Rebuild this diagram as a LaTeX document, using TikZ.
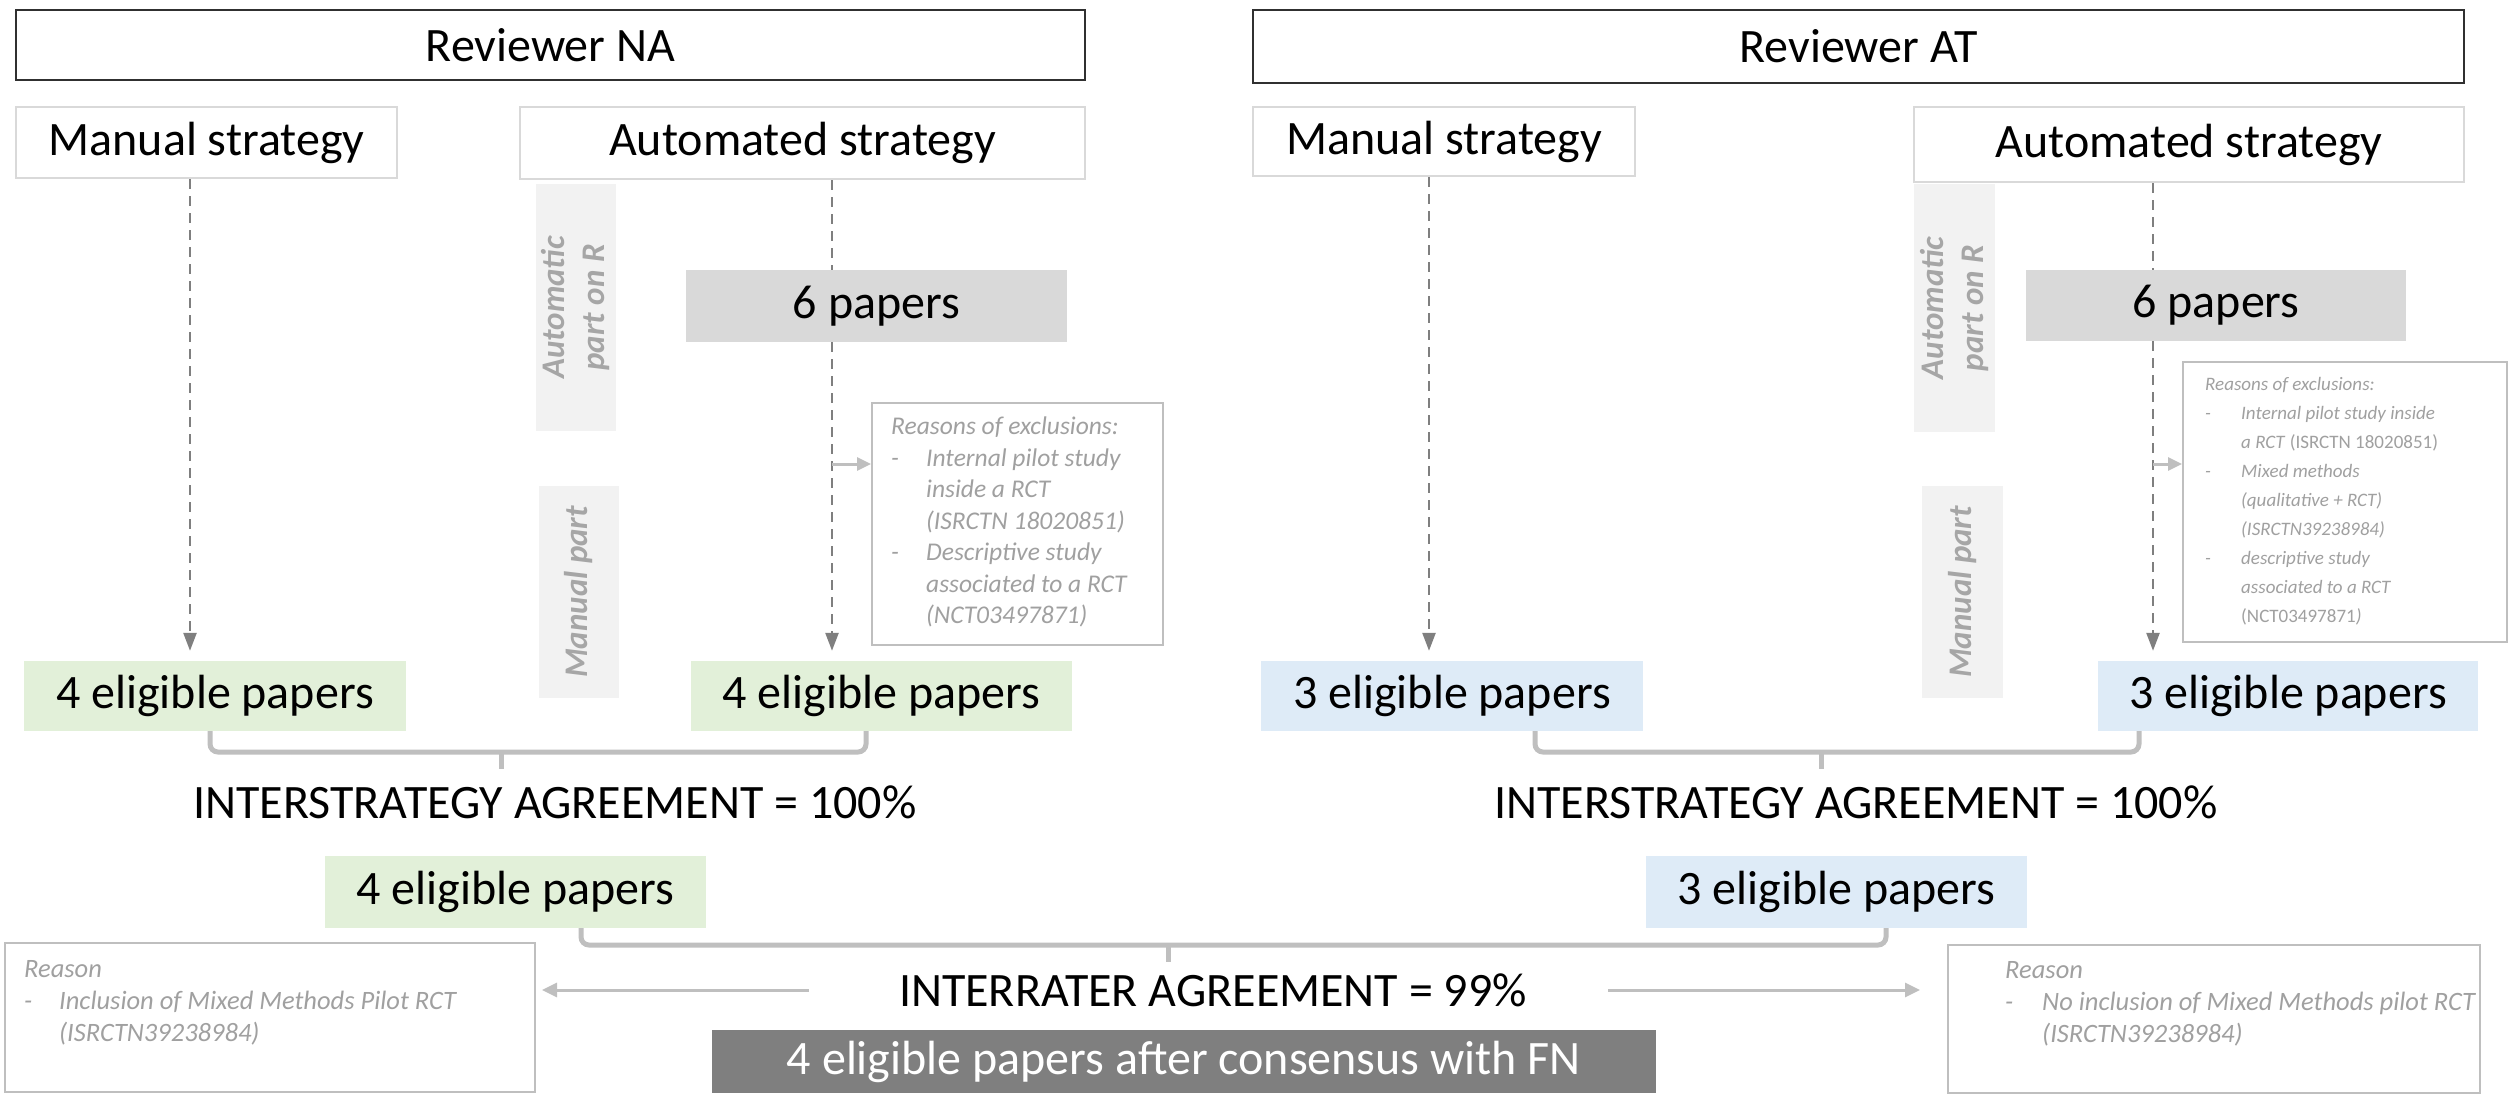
\documentclass[tikz,border=0pt]{standalone}
\usepackage{fontspec}
\setmainfont{Carlito}
\usetikzlibrary{arrows.meta}
\definecolor{cgreen}{HTML}{E2F0D9}
\definecolor{cblue}{HTML}{DEEBF7}
\definecolor{csix}{HTML}{D9D9D9}
\definecolor{cdark}{HTML}{7F7F7F}
\definecolor{cvbox}{HTML}{F2F2F2}
\definecolor{cvtext}{HTML}{A6A6A6}
\definecolor{crsn}{HTML}{A0A0A0}
\definecolor{crsnline}{HTML}{BFBFBF}
\definecolor{cbrack}{HTML}{BFBFBF}
\definecolor{cdash}{HTML}{7F7F7F}
\definecolor{crev}{HTML}{303030}
\definecolor{cstrat}{HTML}{D9D9D9}
\newcommand\bigfont{\fontsize{48}{58}\selectfont}
\begin{document}
\begin{tikzpicture}[x=1pt,y=-1pt,
  revbox/.style={draw=crev, line width=2pt, fill=white, inner sep=0pt, font=\bigfont},
  stratbox/.style={draw=cstrat, line width=2pt, fill=white, inner sep=0pt, font=\bigfont},
  sixbox/.style={fill=csix, inner sep=0pt, font=\bigfont},
  greenbox/.style={fill=cgreen, inner sep=0pt, font=\bigfont},
  bluebox/.style={fill=cblue, inner sep=0pt, font=\bigfont},
  darkbox/.style={fill=cdark, text=white, inner sep=0pt, font=\bigfont},
  vbox/.style={fill=cvbox, inner sep=0pt},
  vlabel/.style={text=cvtext, font=\fontsize{33}{40}\selectfont\bfseries\itshape, rotate=90, align=center, inner sep=0pt},
  rsnbox/.style={draw=crsnline, line width=2pt, fill=white, inner sep=0pt},
  rsntext/.style={text=crsn, align=left, inner sep=0pt, anchor=north west},
  agree/.style={font=\bigfont, inner sep=0pt},
  dasharr/.style={draw=cdash, line width=2.5pt, dash pattern=on 10pt off 7pt, -{Triangle[length=18pt,width=13pt]}},
  dashline/.style={draw=cdash, line width=2.5pt, dash pattern=on 10pt off 7pt},
  smallarr/.style={draw=crsnline, line width=3pt, -{Triangle[length=14pt,width=13pt]}},
  bracket/.style={draw=cbrack, line width=5pt, rounded corners=8pt},
  grayarr/.style={draw=crsnline, line width=3pt, -{Triangle[length=15pt,width=14pt]}}
]
\useasboundingbox (0,0) rectangle (2509,1095);

\coordinate (bkL) at (501,752);
\coordinate (bkR) at (1821,752);
\coordinate (bkM) at (1168,945);

% headers
\node[revbox, minimum width=1069pt, minimum height=70pt] (revNA) at (550.5,45) {Reviewer NA};
\node[revbox, minimum width=1211pt, minimum height=73pt] (revAT) at (1858.5,46.5) {Reviewer AT};
\node[stratbox, minimum width=381pt, minimum height=71pt] (manL) at (206.5,142.5) {Manual strategy};
\node[stratbox, minimum width=565pt, minimum height=72pt] (autL) at (802.5,143) {Automated strategy};
\node[stratbox, minimum width=382pt, minimum height=69pt] (manR) at (1444,141.5) {Manual strategy};
\node[stratbox, minimum width=550pt, minimum height=75pt] (autR) at (2189,144.5) {Automated strategy};

% vertical labels
\node[vbox, minimum width=80pt, minimum height=247pt] (vAL) at (576,307.5) {};
\node[vlabel] (vALt) at (vAL.center) {Automatic\\part on R};
\node[vbox, minimum width=80pt, minimum height=212pt] (vML) at (579,592) {};
\node[vlabel] (vMLt) at (vML.center) {Manual part};
\node[vbox, minimum width=81pt, minimum height=248pt] (vAR) at (1954.5,308) {};
\node[vlabel] (vARt) at (vAR.center) {Automatic\\part on R};
\node[vbox, minimum width=81pt, minimum height=212pt] (vMR) at (1962.5,592) {};
\node[vlabel] (vMRt) at (vMR.center) {Manual part};

% 6 papers
\node[sixbox, minimum width=381pt, minimum height=72pt] (sixL) at (876.5,306) {6 papers};
\node[sixbox, minimum width=380pt, minimum height=71pt] (sixR) at (2216,305.5) {6 papers};

% reasons boxes
\node[rsnbox, minimum width=291pt, minimum height=242pt] (rsnL) at (1017.5,524) {};
\node[rsntext, font=\fontsize{25.5}{31.5}\selectfont\itshape] (rsnLt) at (891,417)
 {Reasons of exclusions:\\
  \makebox[35pt][l]{-}Internal pilot study\\
  \hspace*{35pt}inside a RCT\\
  \hspace*{35pt}(ISRCTN 18020851)\\
  \makebox[35pt][l]{-}Descriptive study\\
  \hspace*{35pt}associated to a RCT\\
  \hspace*{35pt}(NCT03497871)};
\node[rsnbox, minimum width=324pt, minimum height=280pt] (rsnR) at (2345,502) {};
\node[rsntext, font=\fontsize{19}{29}\selectfont\itshape] (rsnRt) at (2205,377)
 {Reasons of exclusions:\\
  \makebox[36pt][l]{-}Internal pilot study inside\\
  \hspace*{36pt}a RCT \textup{(ISRCTN 18020851)}\\
  \makebox[36pt][l]{-}Mixed methods\\
  \hspace*{36pt}(qualitative + RCT)\\
  \hspace*{36pt}(ISRCTN39238984)\\
  \makebox[36pt][l]{-}descriptive study\\
  \hspace*{36pt}associated to a RCT\\
  \hspace*{36pt}\textup{(NCT03497871})};

% eligible boxes
\node[greenbox, minimum width=382pt, minimum height=70pt] (L1) at (215,696) {4 eligible papers};
\node[greenbox, minimum width=381pt, minimum height=70pt] (L2) at (881.5,696) {4 eligible papers};
\node[bluebox, minimum width=382pt, minimum height=70pt] (R1) at (1452,696) {3 eligible papers};
\node[bluebox, minimum width=380pt, minimum height=70pt] (R2) at (2288,696) {3 eligible papers};

% connectors
\draw[dasharr, shorten >=10pt] (manL.south -| 190,0) -- (L1.north -| 190,0);
\draw[dashline] (autL.south -| 832,0) -- (sixL.north -| 832,0);
\draw[dasharr, shorten >=10pt] (sixL.south -| 832,0) -- (L2.north -| 832,0);
\draw[dasharr, shorten >=10pt] (manR.south -| 1429,0) -- (R1.north -| 1429,0);
\draw[dashline] (autR.south -| 2153,0) -- (sixR.north -| 2153,0);
\draw[dasharr, shorten >=10pt] (sixR.south -| 2153,0) -- (R2.north -| 2153,0);
\coordinate (jL) at (832,464);
\draw[smallarr] (jL) -- (jL -| rsnL.west);
\coordinate (jR) at (2153,464);
\draw[smallarr] (jR) -- (jR -| rsnR.west);

% interstrategy brackets
\draw[bracket] (L1.south -| 210,0) |- (bkL) -| (L2.south -| 866,0);
\draw[bracket] (bkL) -- ++(0,17);
\draw[bracket] (R1.south -| 1535,0) |- (bkR) -| (R2.south -| 2139,0);
\draw[bracket] (bkR) -- ++(0,17);

\node[agree] (isL) at (555,802) {INTERSTRATEGY AGREEMENT = 100\%};
\node[agree] (isR) at (1856,802) {INTERSTRATEGY AGREEMENT = 100\%};

\node[greenbox, minimum width=381pt, minimum height=72pt] (midL) at (515.5,892) {4 eligible papers};
\node[bluebox, minimum width=381pt, minimum height=72pt] (midR) at (1836.5,892) {3 eligible papers};

\draw[bracket] (midL.south -| 581,0) |- (bkM) -| (midR.south -| 1886,0);
\draw[bracket] (bkM) -- ++(0,17);

\node[agree] (irr) at (1213,990) {INTERRATER AGREEMENT = 99\%};

\node[darkbox, minimum width=944pt, minimum height=63pt] (dark) at (1184,1061.5) {4 eligible papers after consensus with FN};

% bottom reason boxes
\node[rsnbox, minimum width=530pt, minimum height=149pt] (rbL) at (270,1017.5) {};
\node[rsntext, font=\fontsize{26.5}{32}\selectfont\itshape] (rbLt) at (24,960)
 {Reason\\
  \makebox[35pt][l]{-}Inclusion of Mixed Methods Pilot RCT\\
  \hspace*{35pt}(ISRCTN39238984)};
\node[rsnbox, minimum width=532pt, minimum height=148pt] (rbR) at (2214,1019) {};
\node[rsntext, font=\fontsize{26.5}{32}\selectfont\itshape] (rbRt) at (2005,961)
 {Reason\\
  \makebox[37pt][l]{-}No inclusion of Mixed Methods pilot RCT\\
  \hspace*{37pt}(ISRCTN39238984)};

\draw[grayarr, shorten >=6pt] ([xshift=-90pt]irr.west) -- (rbL.east |- irr.west);
\draw[grayarr, shorten >=27pt] ([xshift=81pt]irr.east) -- (rbR.west |- irr.east);
\end{tikzpicture}
\end{document}
